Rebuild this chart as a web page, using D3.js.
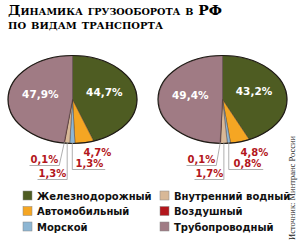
<!DOCTYPE html>
<html>
<head>
<meta charset="utf-8">
<script src="https://cdn.jsdelivr.net/npm/d3@7"></script>
<style>
  body { margin: 0; background: #fff; }
  svg { display: block; }
</style>
</head>
<body>
<svg id="viz" width="300" height="244"></svg>
<script>
// data
const categories = ["Железнодорожный", "Автомобильный", "Морской", "Внутренний водный", "Воздушный", "Трубопроводный"]
const colors = ["#4e5c22", "#f5a623", "#8db6d3", "#d8b897", "#b3161c", "#a07b84"]
const valuesA = [44.7, 4.7, 1.3, 1.3, 0.1, 47.9]
const valuesB = [43.2, 4.8, 0.8, 1.7, 0.1, 49.4]
const titleLines = ["Динамика грузооборота в РФ", "по видам транспорта"]
const sourceText = "Источник: Минтранс России"

const fmt = v => d3.format(".1f")(v).replace(".", ",") + "%"

const svg = d3.select("#viz")

// title
svg.append("text")
    .attr("x", 8).attr("y", 15)
    .attr("font-family", "'DejaVu Serif', serif")
    .attr("font-weight", "bold")
    .attr("font-size", 13)
    .style("font-variant", "small-caps")
    .attr("textLength", 214).attr("lengthAdjust", "spacingAndGlyphs")
    .text(titleLines[0])
svg.append("text")
    .attr("x", 8).attr("y", 29)
    .attr("font-family", "'DejaVu Serif', serif")
    .attr("font-weight", "bold")
    .attr("font-size", 13)
    .style("font-variant", "small-caps")
    .attr("textLength", 155).attr("lengthAdjust", "spacingAndGlyphs")
    .text(titleLines[1])

// pies
const rx = 64.5, ry = 44
const pie = d3.pie().sort(null).value(d => d)
const arc = d3.arc().innerRadius(0).outerRadius(1)

// small labels: slice index, text position relative to pie centre, leader type
const smallA = [
    { i: 1, x: 11, y: 56, lead: "none" },
    { i: 2, x: 3, y: 67, lead: "left" },
    { i: 4, x: -42, y: 63, lead: "diag" },
    { i: 3, x: -34, y: 77, lead: "right" }
]
const smallB = [
    { i: 1, x: 18, y: 56, lead: "none" },
    { i: 2, x: 11, y: 67, lead: "left" },
    { i: 4, x: -35, y: 63, lead: "diag" },
    { i: 3, x: -27, y: 77, lead: "right" }
]

function drawPie(cx, cy, values, small) {
    const g = svg.append("g").attr("transform", `translate(${cx},${cy})`)
    const arcs = pie(values)

    const sg = g.append("g").attr("transform", `scale(${rx},${ry})`)
    sg.selectAll("path")
        .data(arcs)
        .enter()
        .append("path")
        .attr("d", arc)
        .attr("fill", (d, i) => colors[i])
        .attr("stroke", "#3a2a2a")
        .attr("stroke-width", 0.4)
        .attr("vector-effect", "non-scaling-stroke")
    sg.append("ellipse")
        .attr("rx", 1).attr("ry", 1)
        .attr("fill", "none")
        .attr("stroke", "#1e1a14")
        .attr("stroke-width", 1.2)
        .attr("vector-effect", "non-scaling-stroke")

    // big white labels
    const big = [0, 5]
    big.forEach(i => {
        const a = (arcs[i].startAngle + arcs[i].endAngle) / 2
        g.append("text")
            .attr("x", Math.sin(a) * rx * 0.5)
            .attr("y", -Math.cos(a) * ry * 0.5)
            .attr("text-anchor", "middle")
            .attr("font-family", "'DejaVu Sans', sans-serif")
            .attr("font-weight", "bold")
            .attr("font-size", 10.5)
            .attr("fill", "#fff")
            .text(fmt(values[i]))
    })

    // small labels with leaders
    small.forEach(s => {
        const a = (arcs[s.i].startAngle + arcs[s.i].endAngle) / 2
        const px = Math.sin(a) * rx * 0.97
        const py = -Math.cos(a) * ry * 0.97
        const t = g.append("text")
            .attr("x", s.x).attr("y", s.y)
            .attr("font-family", "'DejaVu Sans', sans-serif")
            .attr("font-weight", "bold")
            .attr("font-size", 10)
            .attr("fill", "#b3161c")
            .text(fmt(values[s.i]))
        const w = t.node().getComputedTextLength()
        const ly = s.y + 3
        let pts = null
        if (s.lead === "diag") pts = [[px, py], [s.x + w + 1, ly], [s.x - 1, ly]]
        if (s.lead === "left") pts = [[px, py], [px, ly], [s.x + w + 2, ly]]
        if (s.lead === "right") pts = [[px, py], [px, ly], [s.x - 1, ly]]
        if (pts) {
            g.insert("path", "text")
                .attr("d", d3.line()(pts))
                .attr("fill", "none")
                .attr("stroke", "#9a9a9a")
                .attr("stroke-width", 0.8)
        }
    })
}

drawPie(72.5, 99.5, valuesA, smallA)
drawPie(222.5, 99.5, valuesB, smallB)

// legend
const legend = svg.append("g")
    .selectAll("g")
    .data(categories)
    .enter()
    .append("g")
    .attr("transform", (d, i) => {
        const col = i < 3 ? 0 : 1
        const row = i % 3
        return `translate(${col ? 160 : 23},${191 + row * 15.5})`
    })
legend.append("rect")
    .attr("width", 9).attr("height", 9)
    .attr("fill", (d, i) => colors[i])
    .attr("stroke", "#888")
    .attr("stroke-width", 0.5)
legend.append("text")
    .attr("x", 14).attr("y", 8.5)
    .attr("font-family", "'DejaVu Sans', sans-serif")
    .attr("font-weight", "bold")
    .attr("font-size", 10)
    .attr("fill", "#111")
    .text(d => d)

// source
svg.append("text")
    .attr("transform", "translate(295,240) rotate(-90)")
    .attr("font-family", "'Liberation Serif', serif")
    .attr("font-size", 8.5)
    .attr("fill", "#222")
    .text(sourceText)
</script>
</body>
</html>
